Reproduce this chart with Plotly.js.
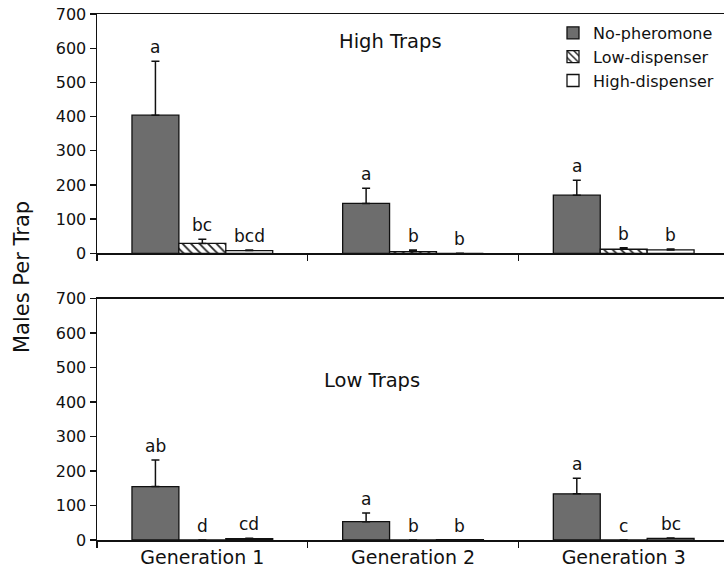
<!DOCTYPE html>
<html>
<head>
<meta charset="utf-8">
<script src="https://cdn.plot.ly/plotly-3.0.1.min.js"></script>
<style>html,body{margin:0;padding:0;background:#fff}#chart{width:724px;height:572px}</style>
</head>
<body>
<div id="chart"></div>
<script>
// Categories and series
const generations = ['Generation 1', 'Generation 2', 'Generation 3'];
const seriesNames = ['No-pheromone', 'Low-dispenser', 'High-dispenser'];

// High traps (top panel)
const highNo = [404, 146, 170];
const highNoErr = [158, 44, 44];
const highLow = [29, 5, 12];
const highLowErr = [12, 5, 4];
const highHigh = [8, 0, 10];
const highHighErr = [2, 0, 3];
const highLettersNo = ['a', 'a', 'a'];
const highLettersLow = ['bc', 'b', 'b'];
const highLettersHigh = ['bcd', 'b', 'b'];

// Low traps (bottom panel)
const lowNo = [155, 53, 134];
const lowNoErr = [77, 25, 45];
const lowLow = [0, 0, 0];
const lowLowErr = [0, 0, 0];
const lowHigh = [4, 1, 5];
const lowHighErr = [1, 0, 1];
const lowLettersNo = ['ab', 'a', 'a'];
const lowLettersLow = ['d', 'b', 'c'];
const lowLettersHigh = ['cd', 'b', 'bc'];

const yTicks = [0, 100, 200, 300, 400, 500, 600, 700];

const FONT = 'DejaVu Sans, Liberation Sans, Arial, sans-serif';
const BARGAP = 0.332;
const barW = (1 - BARGAP) / 3;

const styles = [
  {color: '#6d6d6d', line: {color: '#111', width: 1.3}},
  {color: '#ffffff', line: {color: '#111', width: 1.3}, pattern: {shape: '\\', fgcolor: '#222', bgcolor: '#ffffff', size: 6, solidity: 0.3}},
  {color: '#ffffff', line: {color: '#111', width: 1.3}}
];

function barTrace(vals, errs, idx, xa, ya, showLegend) {
  return {
    type: 'bar', x: generations, y: vals, name: seriesNames[idx],
    xaxis: xa, yaxis: ya, showlegend: showLegend, legendgroup: seriesNames[idx],
    marker: styles[idx],
    error_y: {type: 'data', symmetric: false, array: errs, arrayminus: errs.map(() => 0),
              color: '#111', thickness: 1.5, width: 4}
  };
}

const data = [
  barTrace(highNo, highNoErr, 0, 'x', 'y', true),
  barTrace(highLow, highLowErr, 1, 'x', 'y', true),
  barTrace(highHigh, highHighErr, 2, 'x', 'y', true),
  barTrace(lowNo, lowNoErr, 0, 'x2', 'y2', false),
  barTrace(lowLow, lowLowErr, 1, 'x2', 'y2', false),
  barTrace(lowHigh, lowHighErr, 2, 'x2', 'y2', false)
];

const annotations = [];
function addLetters(vals, errs, letters, idx, xr, yr) {
  letters.forEach((t, i) => {
    annotations.push({
      xref: xr, yref: yr, x: i + (idx - 1) * barW, y: vals[i] + errs[i],
      text: t, showarrow: false, yanchor: 'bottom', xanchor: 'center', yshift: 2,
      font: {family: FONT, size: 17, color: '#111'}
    });
  });
}
addLetters(highNo, highNoErr, highLettersNo, 0, 'x', 'y');
addLetters(highLow, highLowErr, highLettersLow, 1, 'x', 'y');
addLetters(highHigh, highHighErr, highLettersHigh, 2, 'x', 'y');
addLetters(lowNo, lowNoErr, lowLettersNo, 0, 'x2', 'y2');
addLetters(lowLow, lowLowErr, lowLettersLow, 1, 'x2', 'y2');
addLetters(lowHigh, lowHighErr, lowLettersHigh, 2, 'x2', 'y2');

annotations.push({xref: 'paper', yref: 'paper', x: (390 - 97) / 627, y: 1 - (41 - 14) / 526,
  text: 'High Traps', showarrow: false, xanchor: 'center', yanchor: 'middle',
  font: {family: FONT, size: 19.5, color: '#111'}});
annotations.push({xref: 'paper', yref: 'paper', x: (372 - 97) / 627, y: 1 - (380 - 14) / 526,
  text: 'Low Traps', showarrow: false, xanchor: 'center', yanchor: 'middle',
  font: {family: FONT, size: 19.5, color: '#111'}});
annotations.push({xref: 'paper', yref: 'paper', x: (22 - 97) / 627, y: 1 - (277 - 14) / 526,
  text: 'Males Per Trap', showarrow: false, textangle: -90, xanchor: 'center', yanchor: 'middle',
  font: {family: FONT, size: 21, color: '#111'}});

const xBase = {
  type: 'category', range: [-0.5, 2.476], showline: true, mirror: true, linecolor: '#111', linewidth: 1.5,
  ticks: 'outside', tickson: 'boundaries', ticklen: 6, tickcolor: '#111', tickwidth: 1.3,
  showgrid: false, zeroline: false, fixedrange: true,
  tickfont: {family: FONT, size: 19, color: '#111'}
};
const yBase = {
  range: [0, 700], tickvals: yTicks, ticktext: yTicks.map(String), showline: true, linecolor: '#111', linewidth: 1.5,
  ticks: 'outside', ticklen: 6, tickcolor: '#111', tickwidth: 1.3, showgrid: false, zeroline: false,
  tickfont: {family: FONT, size: 16, color: '#111'}, fixedrange: true
};

const layout = {
  width: 724, height: 572,
  margin: {l: 97, r: 0, t: 14, b: 32},
  paper_bgcolor: '#fff', plot_bgcolor: '#fff',
  barmode: 'group', bargap: BARGAP, bargroupgap: 0,
  font: {family: FONT, size: 16, color: '#111'},
  xaxis: Object.assign({}, xBase, {anchor: 'y', showticklabels: false}),
  yaxis: Object.assign({}, yBase, {anchor: 'x', domain: [0.545, 1]}),
  xaxis2: Object.assign({}, xBase, {anchor: 'y2', showticklabels: true}),
  yaxis2: Object.assign({}, yBase, {anchor: 'x2', domain: [0, 0.459]}),
  showlegend: true,
  legend: {x: (553 - 97) / 627, xanchor: 'left', y: 1 - (16 - 14) / 526, yanchor: 'top',
           font: {family: FONT, size: 16, color: '#111'}, bgcolor: 'rgba(0,0,0,0)',
           tracegroupgap: 0, itemwidth: 30},
  annotations: annotations
};

Plotly.newPlot('chart', data, layout, {displayModeBar: false, staticPlot: true});
</script>
</body>
</html>
